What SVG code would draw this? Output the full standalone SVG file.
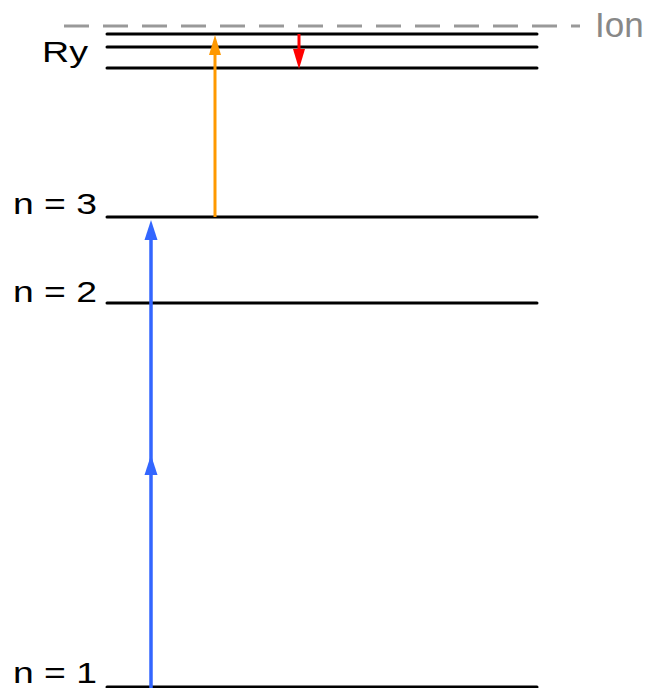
<svg xmlns="http://www.w3.org/2000/svg" width="646" height="688" viewBox="0 0 646 688">
<style>
.lvl{stroke:#000;stroke-width:3;stroke-linecap:round;fill:none}
.lbl{font-family:"Liberation Sans",Arial,sans-serif;font-size:30px;fill:#000}
.ion{stroke:#999;stroke-width:3;stroke-dasharray:25 14;fill:none}
.blue{stroke:#3366ff;stroke-width:3.5;fill:none}
.orange{stroke:#ff9900;stroke-width:3;fill:none}
.red{stroke:#ff0000;stroke-width:3;fill:none}
</style>
<rect width="646" height="688" fill="#fff"/>
<g id="ion">
<line class="ion" x1="64" y1="26" x2="580" y2="26"/>
<text x="595" y="37" style="font-family:'Liberation Sans',Arial,sans-serif;font-size:35px;fill:#888">Ion</text>
</g>
<g id="ry">
<line class="lvl" x1="107" y1="34" x2="537" y2="34"/>
<line class="lvl" x1="107" y1="47" x2="537" y2="47"/>
<line class="lvl" x1="107" y1="68" x2="537" y2="68"/>
<text class="lbl" x="42" y="62" textLength="46" lengthAdjust="spacingAndGlyphs">Ry</text>
</g>
<g id="n3">
<line class="lvl" x1="107" y1="217" x2="537" y2="217"/>
<text class="lbl" x="13" y="214" textLength="84" lengthAdjust="spacingAndGlyphs">n = 3</text>
</g>
<g id="n2">
<line class="lvl" x1="107" y1="303" x2="537" y2="303"/>
<text class="lbl" x="13" y="302" textLength="84" lengthAdjust="spacingAndGlyphs">n = 2</text>
</g>
<g id="n1">
<line class="lvl" x1="107" y1="687" x2="537" y2="687"/>
<text class="lbl" x="13" y="683" textLength="84" lengthAdjust="spacingAndGlyphs">n = 1</text>
</g>
<g id="connectors">
<line class="blue" x1="151" y1="688" x2="151" y2="236"/>
<polygon points="151,220 144.5,240 157.5,240" fill="#3366ff"/>
<polygon points="151,455 144.5,475 157.5,475" fill="#3366ff"/>
<line class="orange" x1="215" y1="217" x2="215" y2="52"/>
<polygon points="215,35 209,55 221,55" fill="#ff9900"/>
<line class="red" x1="299" y1="34" x2="299" y2="52"/>
<polygon points="299,69 293,49 305,49" fill="#ff0000"/>
</g>
</svg>
